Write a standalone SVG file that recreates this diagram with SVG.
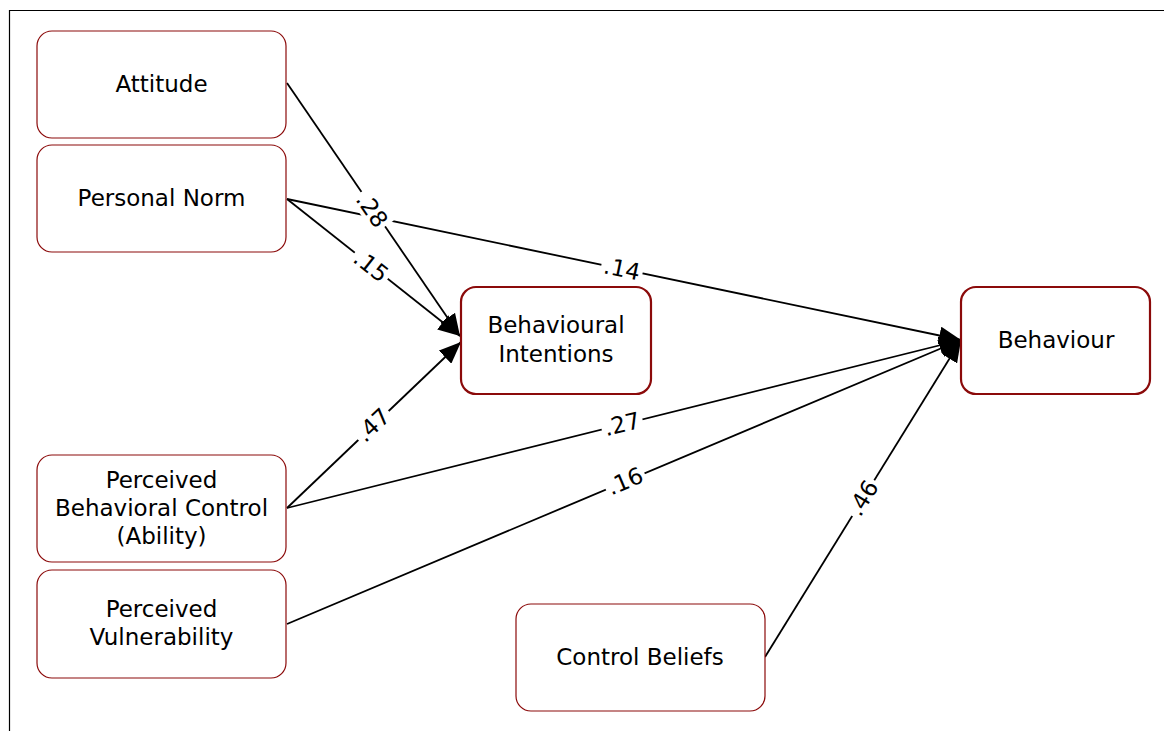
<svg xmlns="http://www.w3.org/2000/svg" width="1164" height="731" viewBox="0 0 1164 731">
<style>
.box{fill:#fff;stroke:#8b0a0a;stroke-width:1.2}
.bold{stroke-width:2.2}
.t{font-family:"DejaVu Sans",Verdana,sans-serif;font-size:23px;fill:#000;text-anchor:middle}
.c{stroke:#000;stroke-width:1.8;fill:none}
.lb{fill:#fff}
.lt{font-family:"DejaVu Sans",Verdana,sans-serif;font-size:23px;fill:#000;text-anchor:middle;dominant-baseline:central}
</style>
<defs>
<marker id="ah" markerUnits="userSpaceOnUse" markerWidth="24" markerHeight="18" viewBox="0 0 24 18" refX="22" refY="9" orient="auto">
<path d="M0,0 L22,9 L0,18 Z" fill="#000"/>
</marker>
</defs>
<rect width="1164" height="731" fill="#fff"/>
<path d="M9.5,731 V10.5 H1164" fill="none" stroke="#000" stroke-width="1.2"/>
<g id="connectors">
<line class="c" x1="287" y1="83" x2="460" y2="336" marker-end="url(#ah)"/>
<line class="c" x1="287" y1="199" x2="460" y2="336" marker-end="url(#ah)"/>
<line class="c" x1="287" y1="508" x2="461" y2="342" marker-end="url(#ah)"/>
<line class="c" x1="287" y1="199" x2="961" y2="340" marker-end="url(#ah)"/>
<line class="c" x1="287" y1="508" x2="961" y2="340" marker-end="url(#ah)"/>
<line class="c" x1="287" y1="624" x2="961" y2="340" marker-end="url(#ah)"/>
<line class="c" x1="765" y1="657" x2="961" y2="340" marker-end="url(#ah)"/>
<g transform="translate(372,210) rotate(55.6)"><rect class="lb" x="-21" y="-12" width="42" height="24"/><text class="lt" x="0" y="0">.28</text></g>
<g transform="translate(371,266) rotate(38.4)"><rect class="lb" x="-21" y="-12" width="42" height="24"/><text class="lt" x="0" y="0">.15</text></g>
<g transform="translate(622,269) rotate(11.8)"><rect class="lb" x="-21" y="-12" width="42" height="24"/><text class="lt" x="0" y="0">.14</text></g>
<g transform="translate(373,425) rotate(-43.7)"><rect class="lb" x="-21" y="-12" width="42" height="24"/><text class="lt" x="0" y="0">.47</text></g>
<g transform="translate(622,424) rotate(-14)"><rect class="lb" x="-21" y="-12" width="42" height="24"/><text class="lt" x="0" y="0">.27</text></g>
<g transform="translate(625,481) rotate(-22.8)"><rect class="lb" x="-21" y="-12" width="42" height="24"/><text class="lt" x="0" y="0">.16</text></g>
<g transform="translate(863,498) rotate(-58.3)"><rect class="lb" x="-21" y="-12" width="42" height="24"/><text class="lt" x="0" y="0">.46</text></g>
</g>
<g id="attitude"><rect class="box" x="37" y="31" width="249" height="107" rx="15"/><text class="t" x="161.5" y="92">Attitude</text></g>
<g id="personal-norm"><rect class="box" x="37" y="145" width="249" height="107" rx="15"/><text class="t" x="161.5" y="206">Personal Norm</text></g>
<g id="behavioural-intentions"><rect class="box bold" x="461" y="287" width="190" height="107" rx="15"/><text class="t" x="556" y="333">Behavioural</text><text class="t" x="556" y="362">Intentions</text></g>
<g id="behaviour"><rect class="box bold" x="961" y="287" width="189" height="107" rx="15"/><text class="t" x="1056" y="348">Behaviour</text></g>
<g id="pbc"><rect class="box" x="37" y="455" width="249" height="107" rx="15"/><text class="t" x="161.5" y="488">Perceived</text><text class="t" x="161.5" y="516">Behavioral Control</text><text class="t" x="161.5" y="544">(Ability)</text></g>
<g id="perceived-vulnerability"><rect class="box" x="37" y="570" width="249" height="108" rx="15"/><text class="t" x="161.5" y="617">Perceived</text><text class="t" x="161.5" y="645">Vulnerability</text></g>
<g id="control-beliefs"><rect class="box" x="516" y="604" width="249" height="107" rx="15"/><text class="t" x="640" y="665">Control Beliefs</text></g>
</svg>
